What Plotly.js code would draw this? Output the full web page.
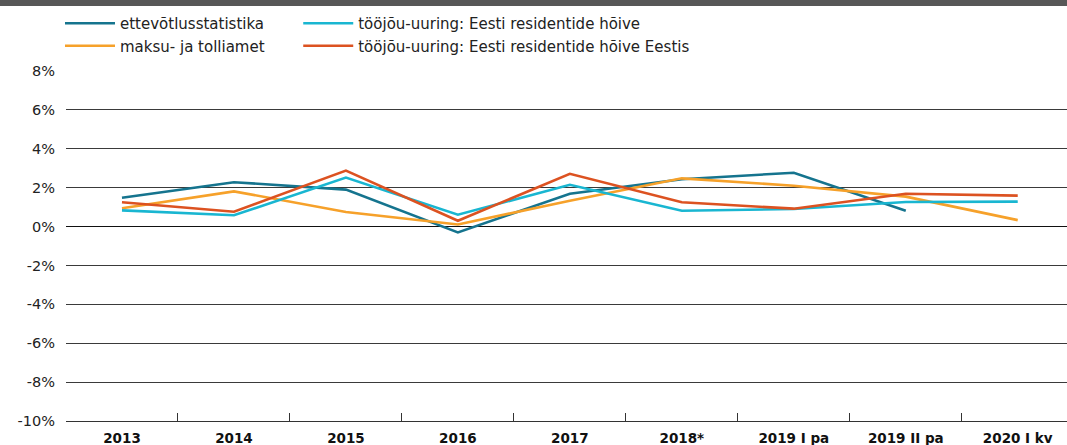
<!DOCTYPE html>
<html>
<head>
<meta charset="utf-8">
<script src="https://cdn.plot.ly/plotly-3.0.1.min.js"></script>
<style>
  html, body { margin: 0; padding: 0; background: #fff; overflow: hidden; }
  #topbar { height: 6px; background: #575757; width: 1067px; }
  #plot { width: 1067px; height: 439px; }
</style>
</head>
<body>
<div id="topbar"></div>
<div id="plot"></div>
<script>
const categories = ['2013', '2014', '2015', '2016', '2017', '2018*', '2019 I pa', '2019 II pa', '2020 I kv'];

// muutus, %
const ettevotlusstatistika = [1.48, 2.28, 1.90, -0.30, 1.69, 2.43, 2.77, 0.81, null];
const maksuJaTolliamet = [0.94, 1.81, 0.75, 0.11, 1.33, 2.48, 2.10, 1.54, 0.33];
const residentideHoive = [0.83, 0.58, 2.52, 0.61, 2.15, 0.81, 0.90, 1.26, 1.28];
const residentideHoiveEestis = [1.25, 0.76, 2.88, 0.30, 2.71, 1.25, 0.92, 1.69, 1.59];

const yTickVals = [-10, -8, -6, -4, -2, 0, 2, 4, 6, 8];
const yTickText = ['-10%', '-8%', '-6%', '-4%', '-2%', '0%', '2%', '4%', '6%', '8%'];

const font = 'DejaVu Sans, Liberation Sans, sans-serif';

function series(name, values, color, legendName, group) {
  return {
    x: categories,
    y: values,
    type: 'scatter',
    mode: 'lines',
    name: name,
    line: { color: color, width: 2.6 },
    legend: legendName,
    legendgroup: group,
    hoverinfo: 'skip'
  };
}

const data = [
  series('ettevõtlusstatistika', ettevotlusstatistika, '#15748e', 'legend', 'a'),
  series('maksu- ja tolliamet', maksuJaTolliamet, '#f6a12a', 'legend', 'b'),
  series('tööjõu-uuring: Eesti residentide hõive', residentideHoive, '#19b6d1', 'legend2', 'c'),
  series('tööjõu-uuring: Eesti residentide hõive Eestis', residentideHoiveEestis, '#dc5221', 'legend2', 'd')
];

const legendStyle = {
  y: 1 + 64 / 350,
  yanchor: 'top',
  xanchor: 'left',
  orientation: 'v',
  font: { family: font, size: 15, color: '#222' },
  bgcolor: 'rgba(0,0,0,0)',
  itemwidth: 50,
  tracegroupgap: 0,
  itemclick: false
};

const layout = {
  width: 1067,
  height: 439,
  margin: { l: 66, r: 0, t: 65, b: 24 },
  paper_bgcolor: '#fff',
  plot_bgcolor: '#fff',
  font: { family: font, size: 15, color: '#222' },
  showlegend: true,
  legend: Object.assign({}, legendStyle, { x: -0.006 }),
  legend2: Object.assign({}, legendStyle, { x: 0.232 }),
  xaxis: {
    type: 'category',
    range: [-0.5, 8.44],
    showgrid: false,
    zeroline: false,
    showline: true,
    linecolor: '#333',
    linewidth: 1,
    ticks: 'inside',
    tickson: 'boundaries',
    ticklen: 8,
    tickcolor: '#333',
    tickfont: { family: font, size: 13.5, color: '#111', weight: 'bold' },
    ticklabelstandoff: 5,
    fixedrange: true
  },
  yaxis: {
    range: [-10, 8],
    tickvals: yTickVals,
    ticktext: yTickText,
    showgrid: true,
    gridcolor: '#3a3a3a',
    gridwidth: 1,
    zeroline: true,
    zerolinecolor: '#111',
    zerolinewidth: 1,
    showline: false,
    ticks: '',
    tickfont: { family: font, size: 14.5, color: '#222' },
    ticklabelstandoff: 10,
    fixedrange: true
  }
};

Plotly.newPlot('plot', data, layout, { displayModeBar: false, staticPlot: true });
</script>
</body>
</html>
